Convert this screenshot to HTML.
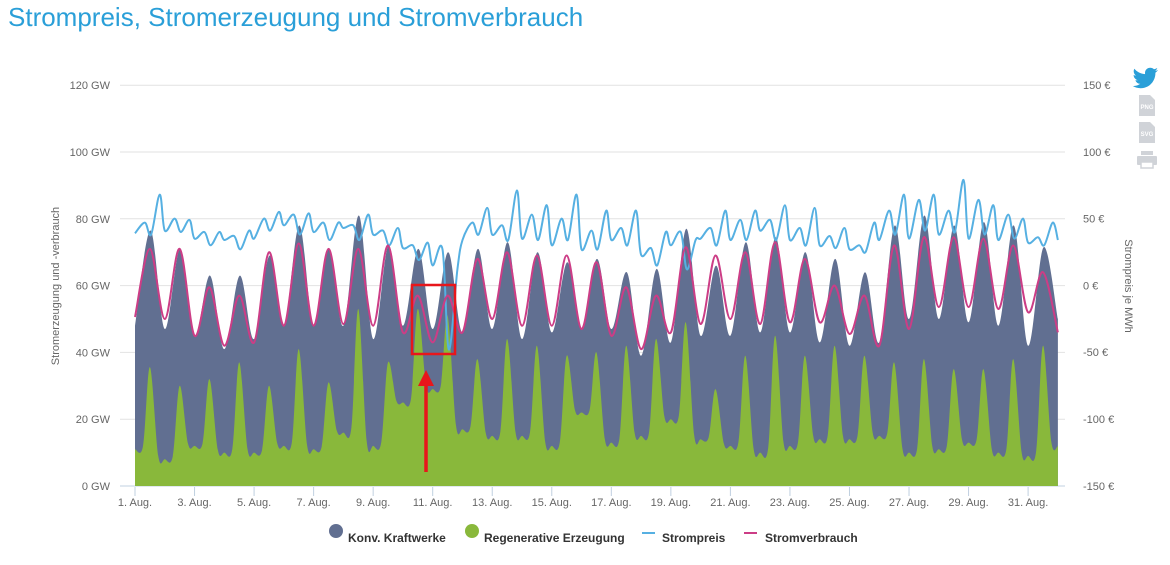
<!DOCTYPE html>
<html><head><meta charset="utf-8">
<style>
body{margin:0;background:#fff;width:1170px;height:565px;overflow:hidden;font-family:"Liberation Sans",sans-serif;}
#title{position:absolute;left:8px;top:2px;font-size:26px;color:#2a9fd8;white-space:nowrap;}
svg{position:absolute;left:0;top:0;}
</style></head><body>
<div id="title">Strompreis, Stromerzeugung und Stromverbrauch</div>
<svg id="chart" width="1170" height="565"></svg>
<script>
// ---- data (per day, 31 days of August; boundary arrays have 32 values = midnights) ----
const tickLabels = ["1. Aug.","3. Aug.","5. Aug.","7. Aug.","9. Aug.","11. Aug.","13. Aug.","15. Aug.","17. Aug.","19. Aug.","21. Aug.","23. Aug.","25. Aug.","27. Aug.","29. Aug.","31. Aug."];
const leftTicks = [0,20,40,60,80,100,120];
const rightTicks = [-150,-100,-50,0,50,100,150];
// total generation (GW)
const genPeak = [76.5,71,63,63,69,78,71,81,72,71,70,71,73,70,67,68,64,65,77,66,73,74.5,70,68,64,78,81,78,79,78,71.5];
const genLow = [48,47,45,41,44,48,48,48,44,48,47,46,47,44,46,47,47,39,43,45,45,46,46,43,42,43,50,50,49,48,42,50];
// renewable generation (GW)
const renPeak = [35.6,30,32,37,30,41,31,53,37,53,51,38,44,42,39,40,42,44,49,29,39,45,39,42,39,37,38,35,35,38,42];
const renLow = [11,8,12,10,10,12,11,16,12,25,29,17,15,15,12,22,13,15,20,14,12,10,12,14,14,15,10,11,13,10,9,12];
// consumption (GW)
const consPeak = [71,71,59.5,57,70,72.6,71,71,72,57,57,68,70,69,69,67,59.5,57,71.5,69,70,73,68,60,57,72,74.5,74.5,74,72,64];
const consLow = [50.6,50,45,42,43,48,48,48.5,48,46,43,46,50,48,48,47,45,41,46,48.5,50,48.5,49,49,45.5,42,47,53.6,53.6,53,52,46];
// price (EUR/MWh): night, morning, midday, evening
const priceNight = [39,41,35,34,35,45,40,43,38,28,15,34,38,35,30,27,34,23,30,35,34,41,34,30,27,34,35,38,35,34,32];
const priceMorning = [47,50,40,37,50,53,47,45,41,30,27,47,45,53,50,41,43,28,40,43,49,49,43,37,30,56,64,56,64,53,36];
const priceMid = [38,40,30,27,41,38,34,34,30,19,-48,38,34,34,34,27,30,15,12,30,34,34,30,28,25,38,41,40,38,35,30];
const priceEvening = [68,49,40,41,55,54,47,53,43,32,12,58,71,60,68,56,56,40,34,56,56,60,58,43,47,68,68,79,60,50,47];
const priceEnd = 34;

// ---- axes ----
const X0=135, DAY=29.77, Y0=486, GWPX=3.34;
const xDay = d => X0 + d*DAY;
const yL = gw => Y0 - gw*GWPX;
const yR = e => 85 + (150-e)*66.8/50;
const svg = document.getElementById('chart');
const NS='http://www.w3.org/2000/svg';
function mk(tag, attrs, parent){const e=document.createElementNS(NS,tag);for(const k in attrs)e.setAttribute(k,attrs[k]);(parent||svg).appendChild(e);return e;}

function spline(pts){
  let d='M'+pts[0][0].toFixed(1)+','+pts[0][1].toFixed(1);
  for(let i=0;i<pts.length-1;i++){
    const p0=pts[Math.max(0,i-1)],p1=pts[i],p2=pts[i+1],p3=pts[Math.min(pts.length-1,i+2)];
    const c1x=p1[0]+(p2[0]-p0[0])/6,c1y=p1[1]+(p2[1]-p0[1])/6;
    const c2x=p2[0]-(p3[0]-p1[0])/6,c2y=p2[1]-(p3[1]-p1[1])/6;
    d+='C'+c1x.toFixed(1)+','+c1y.toFixed(1)+' '+c2x.toFixed(1)+','+c2y.toFixed(1)+' '+p2[0].toFixed(1)+','+p2[1].toFixed(1);
  }
  return d;
}

// gridlines
leftTicks.forEach(v=>{
  const g=mk('line',{x1:120,x2:1065,y1:yL(v),y2:yL(v),stroke:v===0?'#c0d0e0':'#e2e2e2','stroke-width':1});
  
  
  const t=mk('text',{x:110,y:yL(v)+4,'text-anchor':'end','font-size':11,fill:'#666'});
  t.textContent=v+' GW';
  
  
});
rightTicks.forEach(v=>{
  const t=mk('text',{x:1083,y:yR(v)+4,'font-size':11,fill:'#666'});
  t.textContent=v+' €';
  
  
});
tickLabels.forEach((lab,i)=>{
  const x=xDay(i*2);
  const l=mk('line',{x1:x,x2:x,y1:487,y2:496,stroke:'#c0d0e0'});
  
  
  const t=mk('text',{x:x,y:506,'text-anchor':'middle','font-size':11,fill:'#666'});
  t.textContent=lab;
  
  
});
const lt=mk('text',{transform:'translate(59,286) rotate(-90)','text-anchor':'middle','font-size':11,fill:'#666'});
lt.textContent='Stromerzeugung und -verbrauch';


const rt=mk('text',{transform:'translate(1125,286) rotate(90)','text-anchor':'middle','font-size':11,fill:'#666'});
rt.textContent='Strompreis je MWh';



const N=genPeak.length;
// generation area
let gp=[];
for(let i=0;i<N;i++){gp.push([xDay(i),yL(genLow[i])]);gp.push([xDay(i+0.52),yL(genPeak[i])]);}
gp.push([xDay(N),yL(genLow[N])]);
const genA=mk('path',{d:spline(gp)+'L'+xDay(N)+','+Y0+'L'+X0+','+Y0+'Z',fill:'#616f91'});


// renewable area
let rp=[];
for(let i=0;i<N;i++){
  const a=renLow[i],b=renLow[i+1],p=renPeak[i];
  rp.push([xDay(i),yL(a)]);
  rp.push([xDay(i+0.27),yL(a+0.04*(p-a))]);
  rp.push([xDay(i+0.5),yL(p)]);
  rp.push([xDay(i+0.78),yL(b+0.04*(p-b))]);
}
rp.push([xDay(N),yL(renLow[N])]);
const renA=mk('path',{d:spline(rp)+'L'+xDay(N)+','+Y0+'L'+X0+','+Y0+'Z',fill:'#89b83b'});


// price line
let pp=[];
for(let i=0;i<N;i++){
  pp.push([xDay(i),yR(priceNight[i])]);
  pp.push([xDay(i+0.33),yR(priceMorning[i])]);
  pp.push([xDay(i+0.54),yR(priceMid[i])]);
  pp.push([xDay(i+0.83),yR(priceEvening[i])]);
}
pp.push([xDay(N),yR(priceEnd)]);
const pl=mk('path',{d:spline(pp),fill:'none',stroke:'#56b0e2','stroke-width':2});


// consumption line
let cp=[];
for(let i=0;i<N;i++){cp.push([xDay(i),yL(consLow[i])]);cp.push([xDay(i+0.5),yL(consPeak[i])]);}
cp.push([xDay(N),yL(consLow[N])]);
const cl=mk('path',{d:spline(cp),fill:'none',stroke:'#cc3d86','stroke-width':2});



// annotation
const box=mk('rect',{x:412,y:285,width:43,height:69,fill:'none',stroke:'#e8161b','stroke-width':2.5});


const ar=mk('line',{x1:426,y1:472,x2:426,y2:382,stroke:'#e8161b','stroke-width':3.5});


const ah=mk('polygon',{points:'426,370 418,386 434,386',fill:'#e8161b'});



// legend
const leg=[['c','#616f91',336,348,'Konv. Kraftwerke'],['c','#89b83b',472,484,'Regenerative Erzeugung'],['l','#56b0e2',642,662,'Strompreis'],['l','#cc3d86',744,765,'Stromverbrauch']];
leg.forEach(it=>{
  const g=mk('g',{});
  
  
  if(it[0]==='c') mk('circle',{cx:it[2],cy:531,r:7,fill:it[1]},g);
  else mk('line',{x1:it[2],x2:it[2]+13,y1:533,y2:533,stroke:it[1],'stroke-width':2},g);
  const t=mk('text',{x:it[3],y:542,'font-size':12,'font-weight':'bold',fill:'#333'},g);
  t.textContent=it[4];
});

// side icons
const tw=mk('path',{d:'M1158,70c-1,.5-2,.8-3,.9 1.1-.7 1.9-1.7 2.3-2.9-1,.6-2.1 1-3.3 1.3-1-1-2.3-1.6-3.8-1.6-2.9,0-5.2,2.3-5.2,5.2 0,.4 0,.8.1 1.2-4.3-.2-8.2-2.300-10.7-5.4-.5.8-.7 1.7-.7 2.6 0,1.8.9 3.4 2.3 4.3-.9,0-1.7-.3-2.4-.6 0,2.5 1.8,4.6 4.2,5.1-.4.1-.9.2-1.4.2-.3,0-.7,0-1-.1.7,2.1 2.6,3.6 4.9,3.6-1.8,1.4-4,2.2-6.5,2.2-.4,0-.8,0-1.2-.1 2.3,1.5 5.1,2.3 8,2.3 9.6,0 14.8-8 14.8-14.8v-.7c1-.7 1.9-1.7 2.6-2.700z',fill:'#2a9fd8'});


[['PNG',95],['SVG',122]].forEach(a=>{
  const g=mk('g',{});
  
  
  mk('path',{d:`M1139,${a[1]}h11l5,5v16h-16z`,fill:'#d0d3d8'},g);
  const t=mk('text',{x:1147,y:a[1]+14,'text-anchor':'middle','font-size':6,'font-weight':'bold',fill:'#fff'},g);
  t.textContent=a[0];
});
const pr=mk('g',{});


mk('rect',{x:1141,y:151,width:12,height:4,fill:'#d0d3d8'},pr);
mk('rect',{x:1137,y:156,width:20,height:9,rx:1,fill:'#d0d3d8'},pr);
mk('rect',{x:1141,y:162,width:12,height:6,fill:'#fff',stroke:'#d0d3d8','stroke-width':1.5},pr);
</script>
</body></html>
